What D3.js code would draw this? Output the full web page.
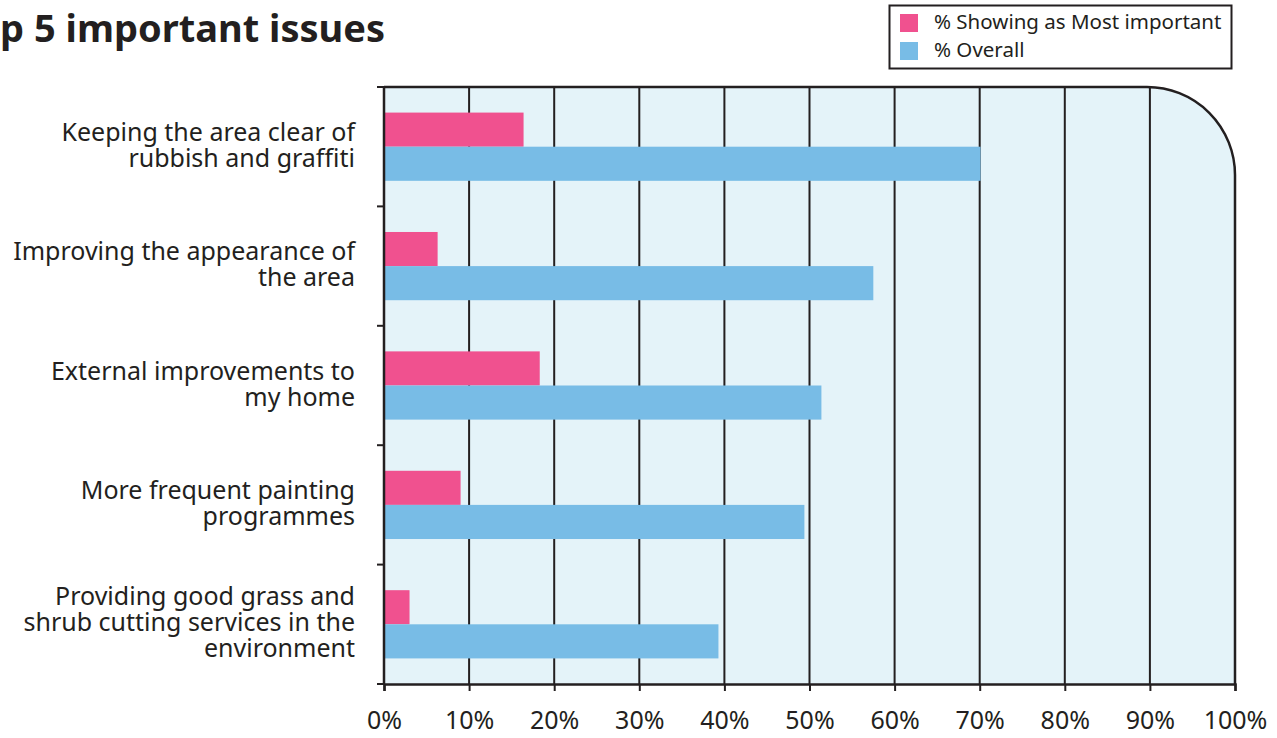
<!DOCTYPE html>
<html><head><meta charset="utf-8">
<script src="https://cdn.jsdelivr.net/npm/d3@7"></script>
<style>body{margin:0;background:#fff;} text{font-family:"Noto Sans","Open Sans",sans-serif;fill:#231f20;}</style>
</head><body>
<svg id="c" width="1277" height="738"></svg>
<script>
const title = "Top 5 important issues";
const categories = [
  ["Keeping the area clear of","rubbish and graffiti"],
  ["Improving the appearance of","the area"],
  ["External improvements to","my home"],
  ["More frequent painting","programmes"],
  ["Providing good grass and","shrub cutting services in the","environment"]
];
const seriesNames = ["% Showing as Most important","% Overall"];
const mostImportant = [16.4, 6.3, 18.3, 9.0, 3.0];
const overall = [70.1, 57.5, 51.4, 49.4, 39.3];
const xTicks = [0,10,20,30,40,50,60,70,80,90,100];
const colors = ["#f0518f","#78bce6"];

const svg = d3.select("#c");
const L = 384, R = 1235, T = 87, B = 684;
const x = d3.scaleLinear().domain([0,100]).range([L,R]);
const y = d3.scaleBand().domain(d3.range(categories.length)).range([T,B]).paddingInner(0).paddingOuter(0);
const inner = d3.scaleBand().domain([0,1]).range([0,y.bandwidth()]).paddingOuter(0.75).paddingInner(0);

// background with rounded top-right corner
const r = 88;
const bgPath = `M${L},${B} L${L},${T} L${R-r},${T} A${r},${r} 0 0 1 ${R},${T+r} L${R},${B} Z`;
svg.append("path").attr("d",bgPath).attr("fill","#e4f3f9");

// gridlines
svg.append("g").selectAll("line").data(xTicks.filter(d=>d>0 && d<100)).join("line")
  .attr("x1",d=>x(d)).attr("x2",d=>x(d)).attr("y1",T).attr("y2",B)
  .attr("stroke","#231f20").attr("stroke-width",2);

// bars
const data = [mostImportant, overall];
const g = svg.append("g");
categories.forEach((c,i)=>{
  data.forEach((s,k)=>{
    g.append("rect").attr("x",x(0)+1).attr("y",y(i)+inner(k))
      .attr("width",x(s[i])-x(0)-1).attr("height",inner.bandwidth())
      .attr("fill",colors[k]);
  });
});

// border (top + rounded corner + right)
svg.append("path").attr("d",`M${L},${T} L${R-r},${T} A${r},${r} 0 0 1 ${R},${T+r} L${R},${B}`)
  .attr("fill","none").attr("stroke","#231f20").attr("stroke-width",2.5);

// x axis
const xAxis = d3.axisBottom(x).tickValues(xTicks).tickFormat(d=>d+"%").tickSize(7).tickPadding(20);
const xg = svg.append("g").attr("transform",`translate(0,${B})`).call(xAxis);
xg.select(".domain").attr("stroke","#231f20").attr("stroke-width",2.5);
xg.selectAll(".tick line").attr("stroke","#231f20").attr("stroke-width",2);
xg.selectAll(".tick text").attr("font-size",25).attr("fill","#231f20").style("font-family","'Noto Sans','Open Sans',sans-serif");

// y axis
const yTickPos = d3.range(categories.length+1).map(i=>T + i*y.step());
svg.append("line").attr("x1",L).attr("x2",L).attr("y1",T).attr("y2",B).attr("stroke","#231f20").attr("stroke-width",2.5);
svg.append("g").selectAll("line").data(yTickPos).join("line")
  .attr("x1",L-7).attr("x2",L).attr("y1",d=>d).attr("y2",d=>d)
  .attr("stroke","#231f20").attr("stroke-width",2);

// category labels
const lh = 26;
categories.forEach((lines,i)=>{
  const cy = y(i)+y.bandwidth()/2;
  lines.forEach((ln,j)=>{
    svg.append("text").attr("text-anchor","end").attr("font-size",25)
      .attr("x",355).attr("y",cy + (j-(lines.length-1)/2)*lh + 7).text(ln);
  });
});

// title
svg.append("text").attr("x",385).attr("y",42).attr("text-anchor","end")
  .attr("font-size",38).attr("font-weight","bold").text(title);

// legend
const lg = svg.append("g");
lg.append("rect").attr("x",889.5).attr("y",5.5).attr("width",342).attr("height",63)
  .attr("fill","#fff").attr("stroke","#231f20").attr("stroke-width",2);
seriesNames.forEach((n,k)=>{
  lg.append("rect").attr("x",900).attr("y",14+k*28).attr("width",18).attr("height",18).attr("fill",colors[k]);
  lg.append("text").attr("x",934).attr("y",29+k*28).attr("font-size",20.5).text(n);
});
</script>
</body></html>
